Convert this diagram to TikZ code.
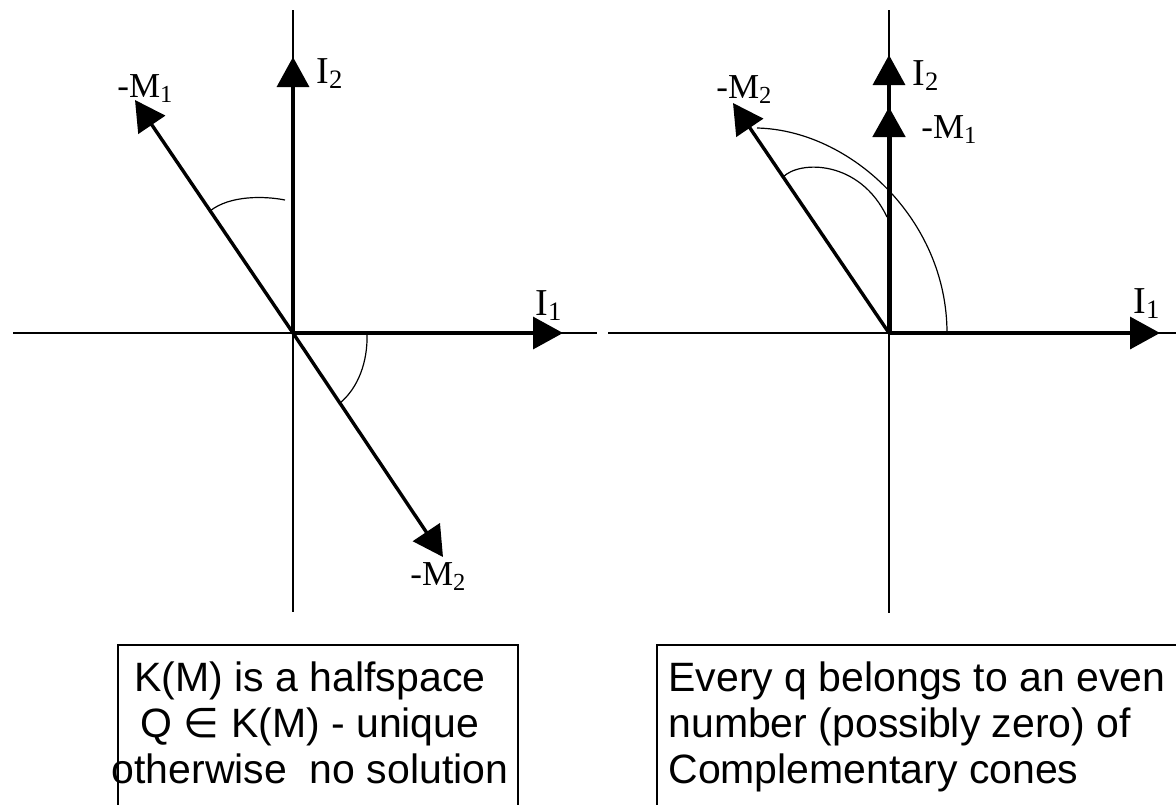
\documentclass[tikz,border=0pt]{standalone}
\usepackage{fontspec}
\setmainfont{Liberation Serif}
\newfontfamily\boxfont{Liberation Sans}
\newfontfamily\symfont{DejaVu Sans}
\usetikzlibrary{arrows.meta}

\begin{document}
\begin{tikzpicture}[x=0.5pt, y=-0.5pt,
  axis/.style={line width=0.9pt},
  vec/.style={line width=1.7pt, -{Triangle[length=15pt, width=16pt]}},
  angl/.style={line width=0.6pt},
  ilbl/.style={anchor=base west, inner sep=0pt, font=\fontsize{19}{21}\selectfont},
  mlbl/.style={anchor=base west, inner sep=0pt, font=\fontsize{17.5}{19}\selectfont},
  note/.style={inner sep=0pt, font=\boxfont\fontsize{20.5}{23}\selectfont}]
  \useasboundingbox (0,0) rectangle (1176,804);

  % left picture: halfspace
  \coordinate (oL) at (293,333);
  \coordinate (xLw) at (13,333);  \coordinate (xLe) at (597,333);
  \coordinate (yLn) at (293,10);  \coordinate (yLs) at (293,612);
  \coordinate (i1L) at (563,333); \coordinate (i2L) at (293,57);
  \coordinate (m1L) at (135,100); \coordinate (m2L) at (443,557);
  \draw[axis] (xLw) -- (xLe);
  \draw[axis] (yLn) -- (yLs);
  \draw[vec] (oL) -- (i1L);
  \draw[vec] (oL) -- (i2L);
  \draw[vec] (oL) -- (m1L);
  \draw[vec] (oL) -- (m2L);
  \draw[angl] (210,211) .. controls (230,195) and (265,196) .. (285,200);
  \draw[angl] (367,333) .. controls (368,362) and (358,388) .. (340,403);
  \node[ilbl] (l1L) at (535,315) {I\textsubscript{1}};
  \node[ilbl] (l2L) at (316,83) {I\textsubscript{2}};
  \node[mlbl] (n1L) at (117,97) {-M\textsubscript{1}};
  \node[mlbl] (n2L) at (410,585) {-M\textsubscript{2}};

  % right picture: complementary cones
  \coordinate (oR) at (889,333);
  \coordinate (xRw) at (608,333); \coordinate (xRe) at (1180,333);
  \coordinate (yRn) at (889,10);  \coordinate (yRs) at (889,613);
  \coordinate (i1R) at (1160,333); \coordinate (i2R) at (889,55);
  \coordinate (m1R) at (889,107); \coordinate (m2R) at (733,103);
  \draw[axis] (xRw) -- (xRe);
  \draw[axis] (yRn) -- (yRs);
  \draw[vec] (oR) -- (i1R);
  \draw[vec] (oR) -- (i2R);
  \draw[vec, line width=2.5pt] (oR) -- (m1R);
  \draw[vec] (oR) -- (m2R);
  \draw[angl] (757,128) .. controls (850,130) and (947,219) .. (947,333);
  \draw[angl] (783,177) .. controls (800,160) and (860,160) .. (887,217);
  \node[ilbl] (l1R) at (1133,313) {I\textsubscript{1}};
  \node[ilbl] (l2R) at (912,85) {I\textsubscript{2}};
  \node[mlbl] (n1R) at (921,138) {-M\textsubscript{1}};
  \node[mlbl] (n2R) at (716,98) {-M\textsubscript{2}};

  % remarks
  \draw[line width=0.7pt] (118,645) rectangle (518,812);
  \draw[line width=0.7pt] (657,645) rectangle (1182,812);
  \node[note, anchor=north, align=center] (txtL) at (310,661)
    {K(M) is a halfspace\\ Q {\symfont ∈} K(M) - unique\\ otherwise\ \ no solution};
  \node[note, anchor=north west, align=left] (txtR) at (668,661)
    {Every q belongs to an even\\ number (possibly zero) of\\ Complementary cones};
\end{tikzpicture}
\end{document}
